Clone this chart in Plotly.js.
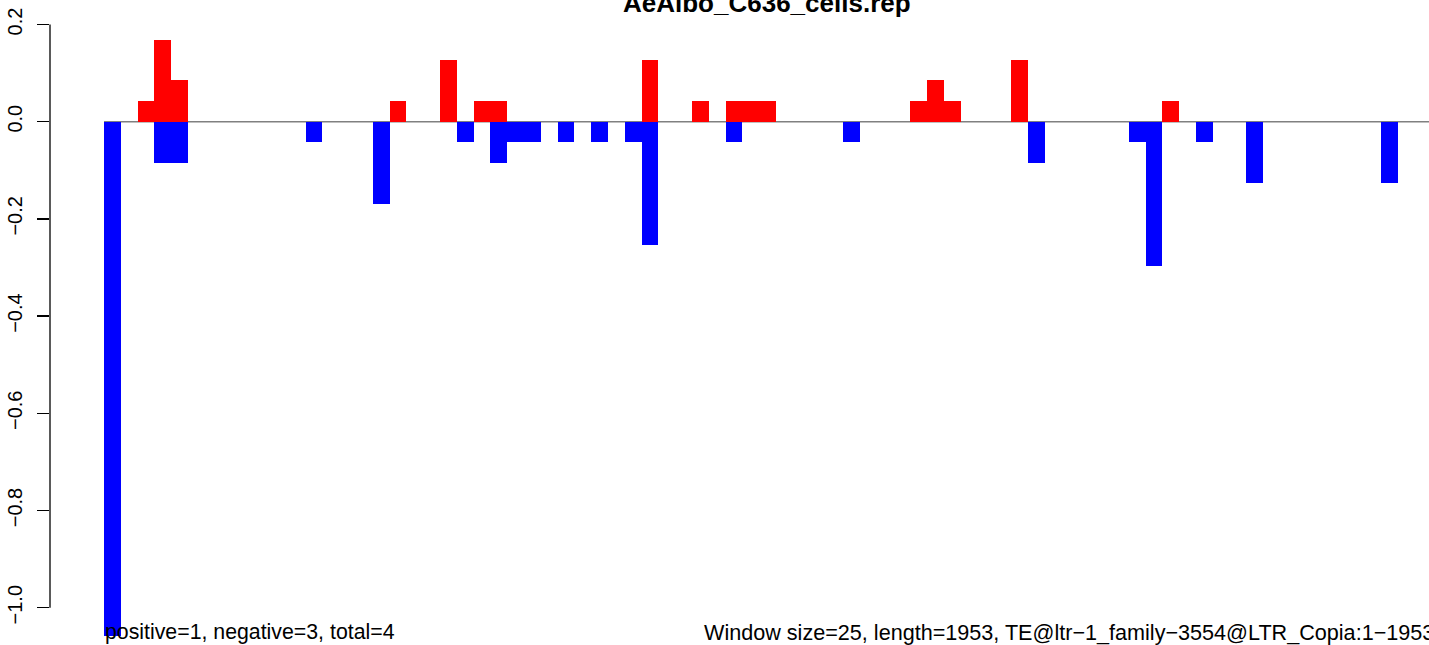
<!DOCTYPE html>
<html>
<head>
<meta charset="utf-8">
<script src="https://cdn.plot.ly/plotly-3.0.1.min.js"></script>
<style>
  html, body { margin: 0; padding: 0; background: #ffffff; }
  #chart { width: 1429px; height: 645px; }
</style>
</head>
<body>
<div id="chart"></div>
<script>
// ---- data ----
const windowSize = 25;
const seqLength = 1953;
const nWindows = 79;

// window index -> value (positive strand, red)
const posIndex = [2, 3, 4, 17, 20, 22, 23, 32, 35, 37, 38, 39, 48, 49, 50, 54, 63];
const posValue = [0.042, 0.169, 0.085, 0.042, 0.127, 0.042, 0.042, 0.127, 0.042, 0.042, 0.042, 0.042, 0.042, 0.085, 0.042, 0.127, 0.042];

// window index -> value (negative strand, blue)
const negIndex = [0, 3, 4, 12, 16, 21, 23, 24, 25, 27, 29, 31, 32, 37, 44, 55, 61, 62, 65, 68, 76];
const negValue = [-1.058, -0.085, -0.085, -0.042, -0.169, -0.042, -0.085, -0.042, -0.042, -0.042, -0.042, -0.042, -0.254, -0.042, -0.042, -0.085, -0.042, -0.296, -0.042, -0.127, -0.127];

const yTickVals = [0.2, 0.0, -0.2, -0.4, -0.6, -0.8, -1.0];
const yTickText = ["0.2", "0.0", "\u22120.2", "\u22120.4", "\u22120.6", "\u22120.8", "\u22121.0"];

const titleText = "AeAlbo_C636_cells.rep";
const leftNote = "positive=1, negative=3, total=4";
const rightNote = "Window size=25, length=1953, TE@ltr\u22121_family\u22123554@LTR_Copia:1\u22121953";

// ---- build ----
const centers = idx => idx.map(i => i * windowSize + windowSize / 2);

const font = "Liberation Sans, Arial, Helvetica, sans-serif";
const xRange = [-80.4, 1971.7];

const traces = [
  {
    type: "bar",
    x: centers(posIndex),
    y: posValue,
    width: windowSize,
    marker: { color: "#ff0000", line: { width: 0 } },
    hoverinfo: "x+y",
    showlegend: false
  },
  {
    type: "bar",
    x: centers(negIndex),
    y: negValue,
    width: windowSize,
    marker: { color: "#0000ff", line: { width: 0 } },
    hoverinfo: "x+y",
    showlegend: false
  }
];

const layout = {
  width: 1429,
  height: 645,
  margin: { l: 50, r: 0, t: 15, b: 0, pad: 0 },
  paper_bgcolor: "#ffffff",
  plot_bgcolor: "#ffffff",
  barmode: "overlay",
  bargap: 0,
  showlegend: false,
  font: { family: font, color: "#000000" },
  xaxis: {
    range: xRange,
    showgrid: false,
    zeroline: false,
    showline: false,
    showticklabels: false,
    ticks: ""
  },
  yaxis: {
    range: [-1.0767, 0.2195],
    showgrid: false,
    zeroline: false,
    showline: false,
    tickmode: "array",
    tickvals: yTickVals,
    ticktext: yTickText,
    ticks: "outside",
    ticklen: 12,
    tickwidth: 1.3,
    tickcolor: "#000000",
    tickangle: -90,
    ticklabelstandoff: 7,
    tickfont: { family: font, size: 20, color: "#000000" }
  },
  shapes: [
    {
      type: "line", layer: "below",
      xref: "x", yref: "y",
      x0: 0, x1: xRange[1], y0: 0, y1: 0,
      line: { color: "#808080", width: 1.5 }
    },
    {
      type: "line", layer: "above",
      xref: "paper", yref: "y",
      x0: 0, x1: 0,
      y0: Math.max(...yTickVals), y1: Math.min(...yTickVals),
      line: { color: "#000000", width: 1.3 }
    }
  ],
  annotations: [
    {
      text: "<b>" + titleText + "</b>",
      xref: "paper", yref: "paper",
      x: 0.5196, y: 1.0183,
      xanchor: "center", yanchor: "middle",
      showarrow: false,
      font: { family: font, size: 26, color: "#000000" }
    },
    {
      text: leftNote,
      xref: "x", yref: "paper",
      x: -2, y: 0.0206,
      xanchor: "left", yanchor: "middle",
      showarrow: false,
      font: { family: font, size: 21.3, color: "#000000" }
    },
    {
      text: rightNote,
      xref: "paper", yref: "paper",
      x: 0.4725, y: 0.0206,
      xanchor: "left", yanchor: "middle",
      showarrow: false,
      font: { family: font, size: 21.6, color: "#000000" }
    }
  ]
};

Plotly.newPlot("chart", traces, layout, { staticPlot: true, displayModeBar: false });
</script>
</body>
</html>
